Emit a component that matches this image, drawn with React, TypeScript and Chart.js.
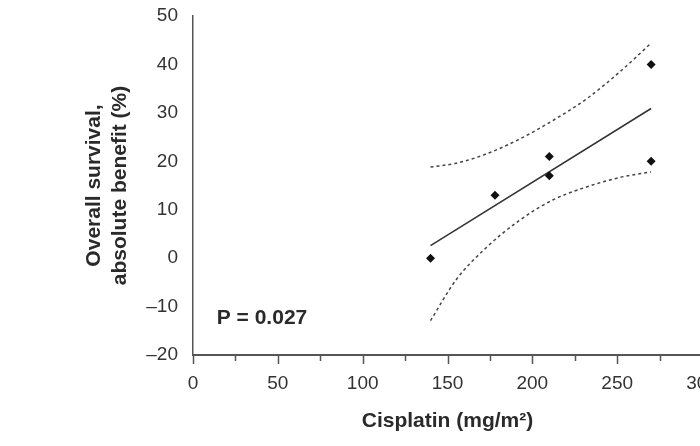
import React, { useEffect, useRef } from "react";
import { Chart, registerables } from "chart.js";
Chart.register(...registerables);

// Observed points
const doseX = [140, 178, 210, 210, 270, 270];
const benefitY = [0, 13, 21, 17, 40, 20];
// Regression line end points
const fitX = [140, 270];
const fitY = [2.6, 30.9];
// Confidence band
const bandX = [140, 155, 172, 192, 212, 232, 252, 270];
const upperY = [18.8, 19.6, 21.4, 24.5, 28.4, 32.9, 38.6, 44.4];
const lowerY = [-12.9, -4.5, 1.9, 7.7, 12.0, 14.7, 16.7, 17.8];
// Axes
const xMin = 0;
const xMax = 300;
const xMajorStep = 50;
const xMinorStep = 25;
const yMin = -20;
const yMax = 50;
const yStep = 10;
const xTitle = "Cisplatin (mg/m²)";
const yTitle = ["Overall survival,", "absolute benefit (%)"];
const pText = "P = 0.027";
const pPos = { x: 14, y: -12.4 };

const FONT = "'Liberation Sans', Arial, Helvetica, sans-serif";

function zeroPad(scale: any) {
  scale.paddingLeft = 0;
  scale.paddingRight = 0;
  scale.paddingTop = 0;
  scale.paddingBottom = 0;
}

export default function App() {
  const ref = useRef<HTMLCanvasElement | null>(null);
  useEffect(() => {
    const canvas = ref.current;
    if (!canvas) return;
    const toPts = (xs: number[], ys: number[]) => xs.map((x, i) => ({ x, y: ys[i] }));

    const extras = {
      id: "extras",
      afterDraw(chart: any) {
        const ctx = chart.ctx;
        const xs = chart.scales.x;
        const ys = chart.scales.y;
        const base = chart.chartArea.bottom;
        ctx.save();
        ctx.strokeStyle = "#555";
        ctx.lineWidth = 1.5;
        for (let v = xMin; v <= xMax; v += xMinorStep) {
          const px = Math.round(xs.getPixelForValue(v)) + 0.5;
          const len = v % xMajorStep === 0 ? 9 : 6;
          ctx.beginPath();
          ctx.moveTo(px, base);
          ctx.lineTo(px, base + len);
          ctx.stroke();
        }
        ctx.fillStyle = "#2a2a2a";
        ctx.font = `bold 21px ${FONT}`;
        ctx.textAlign = "left";
        ctx.textBaseline = "middle";
        ctx.fillText(pText, xs.getPixelForValue(pPos.x), ys.getPixelForValue(pPos.y));
        ctx.restore();
      },
    };

    const chart = new Chart(canvas, {
      type: "scatter",
      data: {
        datasets: [
          {
            data: toPts(doseX, benefitY),
            pointStyle: "rectRot",
            pointRadius: 4.5,
            backgroundColor: "#111",
            borderColor: "#111",
            borderWidth: 0,
            showLine: false,
          },
          {
            type: "line",
            data: toPts(fitX, fitY),
            borderColor: "#333",
            borderWidth: 1.5,
            pointRadius: 0,
            fill: false,
          },
          {
            type: "line",
            data: toPts(bandX, upperY),
            borderColor: "#444",
            borderWidth: 1.5,
            borderDash: [3, 3],
            pointRadius: 0,
            cubicInterpolationMode: "monotone",
            fill: false,
          },
          {
            type: "line",
            data: toPts(bandX, lowerY),
            borderColor: "#444",
            borderWidth: 1.5,
            borderDash: [3, 3],
            pointRadius: 0,
            cubicInterpolationMode: "monotone",
            fill: false,
          },
        ] as any,
      },
      options: {
        responsive: false,
        animation: false,
        layout: { padding: { left: 0, right: 18, top: 16, bottom: 0 } },
        plugins: { legend: { display: false }, tooltip: { enabled: false } },
        scales: {
          x: {
            type: "linear",
            min: xMin,
            max: xMax,
            grid: { display: false, drawTicks: false },
            border: { display: true, color: "#555", width: 2 },
            ticks: {
              stepSize: xMajorStep,
              padding: 17,
              color: "#333",
              font: { family: FONT, size: 19 },
              maxRotation: 0,
            },
            title: {
              display: true,
              text: xTitle,
              color: "#2a2a2a",
              font: { family: FONT, size: 21, weight: "bold", lineHeight: 1.25 },
              padding: { top: 0, bottom: 12 },
            },
            afterFit(scale: any) {
              scale.height = 91;
              zeroPad(scale);
            },
          },
          y: {
            type: "linear",
            min: yMin,
            max: yMax,
            grid: { display: false, drawTicks: false },
            border: { display: true, color: "#555", width: 1.5 },
            ticks: {
              stepSize: yStep,
              padding: 15,
              color: "#333",
              font: { family: FONT, size: 19 },
              callback: (v: any) => (v < 0 ? "–" + Math.abs(v) : String(v)),
            },
            title: {
              display: true,
              text: yTitle,
              color: "#2a2a2a",
              font: { family: FONT, size: 21, weight: "bold", lineHeight: 1.25 },
              padding: { top: 81, bottom: 0 },
            },
            afterFit(scale: any) {
              scale.width = 193;
              zeroPad(scale);
            },
          },
        },
      } as any,
      plugins: [extras],
    });
    return () => chart.destroy();
  }, []);

  return (
    <div style={{ position: "fixed", left: 0, top: 0, width: 700, height: 446, overflow: "hidden", background: "#fff" }}>
      <canvas ref={ref} width={720} height={446} style={{ display: "block" }} />
    </div>
  );
}
